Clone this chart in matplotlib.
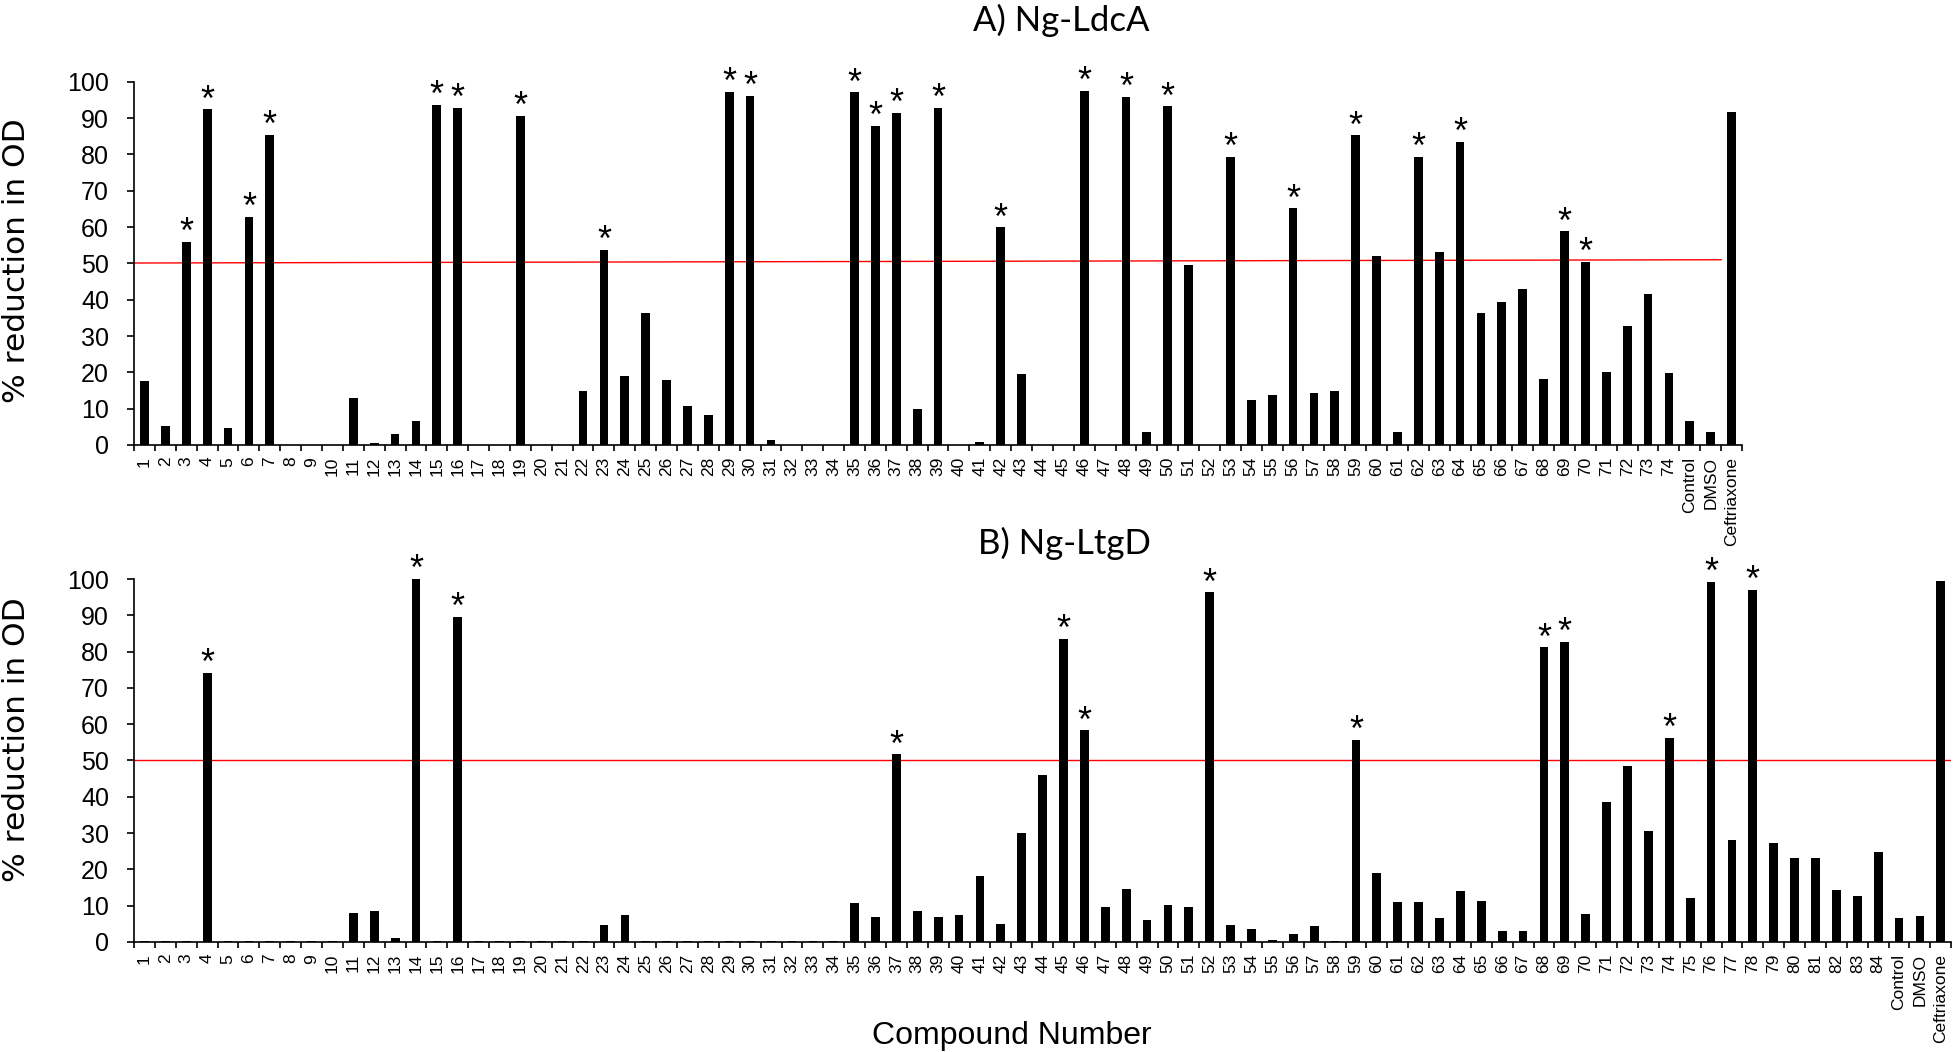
import numpy as np
import matplotlib.pyplot as plt

plt.rcParams['font.family'] = ['Liberation Sans', 'DejaVu Sans']

# Panel A: Ng-LdcA
ldca_labels = [str(i) for i in range(1, 75)] + ['Control', 'DMSO', 'Ceftriaxone']
ldca_values = [17.7, 5.2, 55.9, 92.4, 4.7, 62.8, 85.4, 0, 0, 0,
               12.8, 0.6, 3.0, 6.6, 93.7, 92.9, 0, 0, 90.7, 0,
               0, 15.0, 53.8, 19.1, 36.4, 18.0, 10.8, 8.2, 97.3, 96.1,
               1.3, 0, 0, 0, 97.1, 87.8, 91.5, 10.0, 92.9, 0,
               0.8, 59.9, 19.5, 0, 0, 97.5, 0, 95.9, 3.7, 93.3,
               49.5, 0, 79.4, 12.5, 13.8, 65.2, 14.2, 14.8, 85.3, 52.0,
               3.6, 79.4, 53.1, 83.4, 36.3, 39.3, 43.0, 18.3, 58.8, 50.5,
               20.1, 32.8, 41.5, 19.8,
               6.6, 3.7, 91.8]
ldca_stars = ['3', '4', '6', '7', '15', '16', '19', '23', '29', '30', '35', '36', '37',
              '39', '42', '46', '48', '50', '53', '56', '59', '62', '64', '69', '70']

# Panel B: Ng-LtgD
ltgd_labels = [str(i) for i in range(1, 85)] + ['Control', 'DMSO', 'Ceftriaxone']
ltgd_values = [0.3, 0.3, 0.3, 74.1, 0.3, 0.3, 0.3, 0.3, 0.3, 0.3,
               7.9, 8.6, 1.1, 100.0, 0.3, 89.6, 0.3, 0.3, 0.3, 0.3,
               0.3, 0.3, 4.7, 7.5, 0.3, 0.3, 0.3, 0.3, 0.3, 0.3,
               0.3, 0.3, 0.3, 0.3, 10.6, 7.0, 51.7, 8.6, 7.0, 7.5,
               18.2, 4.9, 30.1, 46.0, 83.5, 58.3, 9.6, 14.7, 6.1, 10.1,
               9.6, 96.4, 4.6, 3.7, 0.6, 2.2, 4.3, 0.3, 55.7, 19.0,
               11.0, 10.9, 6.6, 14.0, 11.3, 3.1, 3.0, 81.2, 82.7, 7.6,
               38.7, 48.6, 30.7, 56.3, 12.1, 99.3, 28.0, 97.1, 27.2, 23.1,
               23.1, 14.4, 12.8, 24.7,
               6.7, 7.2, 99.4]
ltgd_stars = ['4', '14', '16', '37', '45', '46', '52', '59', '68', '69', '74', '76', '78']


def draw_panel(ax, labels, values, stars):
    n = len(labels)
    x = np.arange(n)
    ax.bar(x, values, width=0.42, color='black', zorder=3)
    for lab in stars:
        i = labels.index(lab)
        ax.annotate('*', (i, values[i]), xytext=(0, -1), textcoords='offset points',
                    ha='center', va='baseline', fontsize=26, annotation_clip=False)
    ax.set_xlim(-0.5, n - 0.5)
    ax.set_ylim(0, 100)
    ax.set_yticks(np.arange(0, 101, 10))
    ax.tick_params(axis='y', labelsize=18, length=5, width=1.2, pad=13)
    # tick marks between categories, labels under the bars
    ax.set_xticks(np.arange(-0.5, n, 1.0))
    ax.set_xticklabels([])
    ax.set_xticks(x, minor=True)
    ax.set_xticklabels(labels, minor=True, rotation=90, fontsize=12.5)
    ax.tick_params(axis='x', which='major', length=4.5, width=1.2)
    ax.tick_params(axis='x', which='minor', length=0, pad=8.5)
    for side in ['top', 'right']:
        ax.spines[side].set_visible(False)
    for side in ['left', 'bottom']:
        ax.spines[side].set_linewidth(1.2)


fig = plt.figure(figsize=(19.54, 10.52), dpi=100)

ax1 = fig.add_axes([0.0686, 0.577, 0.8229, 0.3453])
draw_panel(ax1, ldca_labels, ldca_values, ldca_stars)
ax1.plot([-0.5, 75.5], [50.1, 51.0], color='red', lw=1.0, zorder=2)

ax2 = fig.add_axes([0.0686, 0.1046, 0.930, 0.345])
draw_panel(ax2, ltgd_labels, ltgd_values, ltgd_stars)
ax2.axhline(50, color='red', lw=1.0, zorder=2)

fig.text(0.543, 0.971, 'A) Ng-LdcA', ha='center', va='baseline', fontsize=25, family='Lato')
fig.text(0.545, 0.4734, 'B) Ng-LtgD', ha='center', va='baseline', fontsize=25, family='Lato')

fig.text(0.0086, 0.752, '% reduction in OD', rotation=90, ha='center', va='center',
         fontsize=22.5, family='DejaVu Sans')
fig.text(0.0086, 0.2966, '% reduction in OD', rotation=90, ha='center', va='center',
         fontsize=22.5, family='DejaVu Sans')

fig.text(0.518, 0.0076, 'Compound Number', ha='center', va='baseline', fontsize=23)

fig.savefig('out.png', dpi=100)
